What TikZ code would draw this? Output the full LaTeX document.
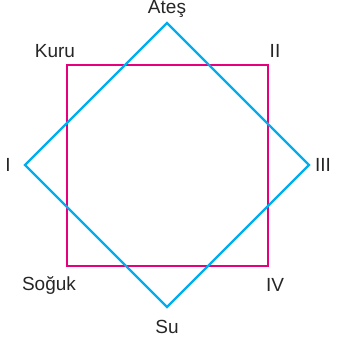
\documentclass[tikz,border=0pt]{standalone}
\usepackage{fontspec}
\setmainfont{Liberation Sans}
\definecolor{mag}{HTML}{E6007E}
\definecolor{cyn}{HTML}{00AEEF}
\begin{document}
\begin{tikzpicture}[x=1pt,y=-1pt,
  lbl/.style={font=\fontsize{19}{22}\selectfont, text=black!85, inner sep=0pt, anchor=center},
  sq/.style={draw=mag, line width=2.3pt},
  dm/.style={draw=cyn, line width=2.3pt, line join=miter}]
\useasboundingbox (0,0) rectangle (336,344);
\coordinate (A) at (67,65);
\coordinate (B) at (268,65);
\coordinate (C) at (268,266);
\coordinate (D) at (67,266);
\coordinate (T) at (167,23);
\coordinate (R) at (309,165);
\coordinate (Bo) at (167,307);
\coordinate (L) at (25,165);
\draw[sq] (A) -- (B) -- (C) -- (D) -- cycle;
\draw[dm] (T) -- (R) -- (Bo) -- (L) -- cycle;
\node[lbl] (ates) at (167,9) {Ateş};
\node[lbl] (kuru) at (55,51) {Kuru};
\node[lbl] (ii) at (275,51) {II};
\node[lbl] (i) at (8,165) {I};
\node[lbl] (iii) at (323,165) {III};
\node[lbl] (soguk) at (49,285) {Soğuk};
\node[lbl] (iv) at (275,285) {IV};
\node[lbl] (su) at (167,327) {Su};
\end{tikzpicture}
\end{document}
